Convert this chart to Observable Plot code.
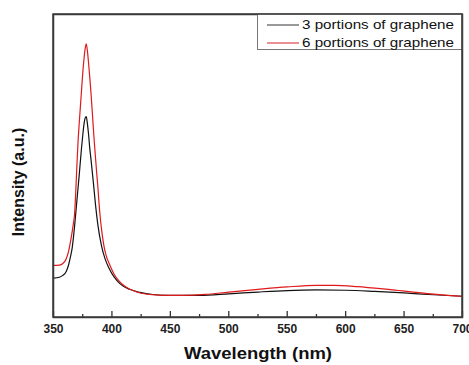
<!DOCTYPE html>
<html><head><meta charset="utf-8">
<script src="https://cdn.jsdelivr.net/npm/d3@7"></script>
<script src="https://cdn.jsdelivr.net/npm/@observablehq/plot@0.6"></script>
<style>html,body{margin:0;padding:0;background:#fff} svg{display:block}</style>
</head><body><div id="chart"></div>
<script>
// Series: 3 portions of graphene (black)
const wl3 = [350,355,358,361,363,364.5,366,368,370,372,374,375,376,377,378,379,380,381,382,384,386,388,391,394,397,402,407,415,424,435,450,475,500,525,550,575,600,625,650,675,700];
const int3 = [13.0,13.3,13.9,15.3,17.5,20,23,30,38.5,47,56,60,63.5,65.7,66.3,64,60.5,56,52.5,45,37,30.5,23.8,19.5,16.7,13.3,11.1,9.3,8.3,7.6,7.3,7.3,7.8,8.4,8.9,9.1,9.0,8.6,8.1,7.5,7.0];
// Series: 6 portions of graphene (red)
const wl6 = [350,355,358,361,363,365,367,368,369,370,371,372,373,374,375,376,377,378,379,380,381,382,383,384,385,386,387,388,389,390,391,392,393,395,398,402,407,412,418,425,440,460,480,500,525,550,575,590,610,640,670,700];
const int6 = [17.2,17.3,17.8,19.5,22,26,31,34,41,50,58,64,69.5,75,80.5,85,88.5,90.3,88,84,79.5,74.5,69,63,57.5,52.5,47.5,43,37.5,33,29.5,26.5,24,20.5,17.5,14.2,11.7,10.1,8.9,8.0,7.4,7.3,7.6,8.4,9.3,10.1,10.6,10.6,10.2,9.1,7.9,7.0];

const seriesNames = ["3 portions of graphene", "6 portions of graphene"];
const seriesColors = ["#111111", "#e0191b"];
const legendColors = ["#555555", "#d9464a"];
const majorTicks = [350,400,450,500,550,600,650,700];
const minorTicks = [375,425,475,525,575,625,675];
const xLabel = "Wavelength (nm)";
const yLabel = "Intensity (a.u.)";

const rows = [
  ...wl3.map((w, i) => ({wl: w, v: int3[i], s: seriesNames[0]})),
  ...wl6.map((w, i) => ({wl: w, v: int6[i], s: seriesNames[1]}))
];

const font = "'Liberation Sans', Arial, sans-serif";

const plot = Plot.plot({
  width: 469, height: 365,
  marginLeft: 53, marginRight: 7, marginTop: 14, marginBottom: 48,
  x: {domain: [350, 700], label: null},
  y: {domain: [0, 100], axis: null},
  color: {domain: seriesNames, range: seriesColors},
  style: {fontFamily: font, background: "#fff"},
  marks: [
    Plot.line(rows, {x: "wl", y: "v", z: "s", stroke: "s", curve: "monotone-x", strokeWidth: 1.2}),
    Plot.tickX(minorTicks, {x: d => d, insetTop: 300, stroke: "#333", strokeWidth: 1.3}),
    Plot.tickX(majorTicks, {x: d => d, insetTop: 297, stroke: "#333", strokeWidth: 1.3}),
    Plot.axisX({ticks: majorTicks, tickSize: 0, tickPadding: 7, tickFormat: d => String(d),
      fontSize: 12, fontWeight: "bold", fill: "#222", label: null}),
    Plot.frame({stroke: "#3a3a3a", strokeWidth: 1.5})
  ]
});

document.getElementById("chart").appendChild(plot);

const svg = d3.select(plot);
// x label
svg.append("text")
  .attr("x", 258).attr("y", 355)
  .attr("text-anchor", "middle").attr("dominant-baseline", "middle")
  .attr("font-family", font).attr("font-size", 16).attr("font-weight", "bold")
  .attr("fill", "#111")
  .attr("textLength", 148).attr("lengthAdjust", "spacingAndGlyphs")
  .text(xLabel);
// y label
svg.append("text")
  .attr("transform", "translate(20,182) rotate(-90)")
  .attr("text-anchor", "middle").attr("dominant-baseline", "middle")
  .attr("font-family", font).attr("font-size", 16).attr("font-weight", "bold")
  .attr("fill", "#111")
  .text(yLabel);
// legend
const lg = svg.append("g");
lg.append("rect")
  .attr("x", 257.5).attr("y", 14).attr("width", 204.5).attr("height", 35.5)
  .attr("fill", "#fff").attr("stroke", "#777").attr("stroke-width", 1);
seriesNames.forEach((name, i) => {
  const y = 25 + i * 18;
  lg.append("line").attr("x1", 267).attr("x2", 299).attr("y1", y).attr("y2", y)
    .attr("stroke", legendColors[i]).attr("stroke-width", 1.2);
  lg.append("text").attr("x", 302).attr("y", y)
    .attr("text-anchor", "start").attr("dominant-baseline", "middle")
    .attr("font-family", font).attr("font-size", 13.5).attr("fill", "#111")
    .attr("textLength", 152).attr("lengthAdjust", "spacingAndGlyphs")
    .text(name);
});
// redraw frame top/right over legend edge
svg.append("rect").attr("x", 53).attr("y", 14).attr("width", 409).attr("height", 303)
  .attr("fill", "none").attr("stroke", "#3a3a3a").attr("stroke-width", 1.5);
</script>
</body></html>
